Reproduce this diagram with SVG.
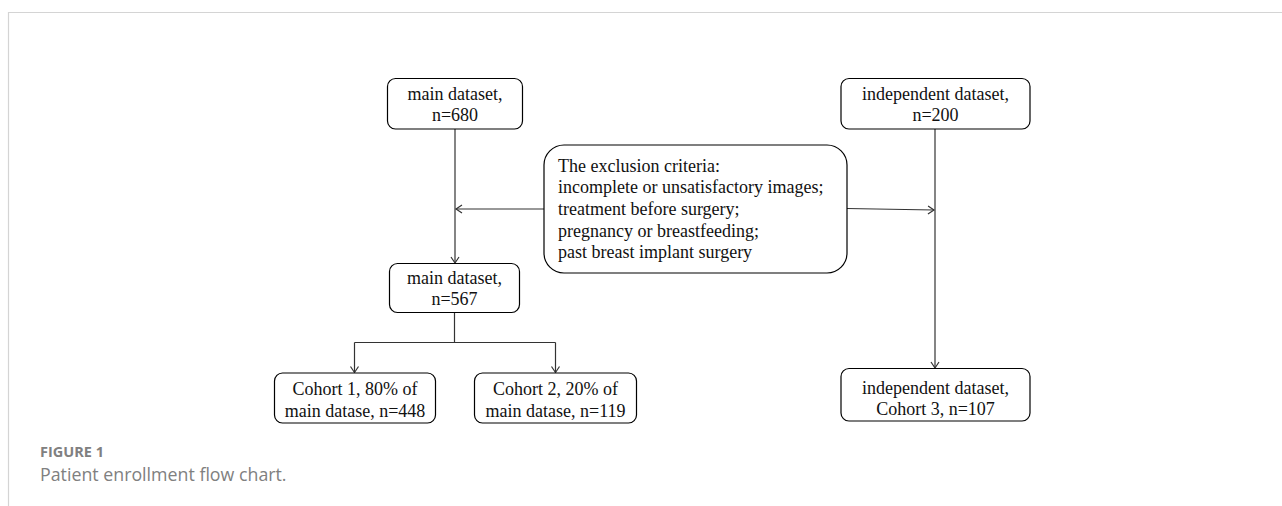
<svg xmlns="http://www.w3.org/2000/svg" width="1282" height="506" viewBox="0 0 1282 506">
<defs>
<style>
.box{fill:#fff;stroke:#000;stroke-width:1.2}
.t{font-family:"Liberation Serif","Times New Roman",serif;font-size:18px;fill:#111}
.c{text-anchor:middle}
.ln{fill:none;stroke:#333;stroke-width:1.2}
.cap{font-family:"Open Sans","Noto Sans",sans-serif;fill:#808080}
</style>
<marker id="ah" markerWidth="10" markerHeight="10" refX="7" refY="5" orient="auto" markerUnits="userSpaceOnUse">
<path d="M1,1 L7,5 L1,9" fill="none" stroke="#333" stroke-width="1.2"/>
</marker>
</defs>
<rect width="1282" height="506" fill="#fff"/>
<path d="M8.5,506 V12.5 H1282" fill="none" stroke="#d4d4d4" stroke-width="1.2"/>
<g id="connectors">
<line class="ln" x1="455" y1="129" x2="455" y2="263" marker-end="url(#ah)"/>
<line class="ln" x1="935" y1="129" x2="935" y2="368" marker-end="url(#ah)"/>
<line class="ln" x1="544" y1="209" x2="456" y2="209" marker-end="url(#ah)"/>
<line class="ln" x1="847" y1="208.5" x2="934" y2="210" marker-end="url(#ah)"/>
<path class="ln" d="M454.5,312 V342.5 M354.5,342.5 H555.5"/>
<line class="ln" x1="354.5" y1="342.5" x2="354.5" y2="372.5" marker-end="url(#ah)"/>
<line class="ln" x1="555.5" y1="342.5" x2="555.5" y2="372.5" marker-end="url(#ah)"/>
</g>
<g id="main680">
<rect class="box" x="387.5" y="78.5" width="135" height="50.5" rx="8"/>
<text class="t c" x="455" y="99.5">main dataset,</text>
<text class="t c" x="455" y="121">n=680</text>
</g>
<g id="indep200">
<rect class="box" x="841" y="78.5" width="189" height="50.5" rx="8"/>
<text class="t c" x="935.5" y="99.5">independent dataset,</text>
<text class="t c" x="935.5" y="121">n=200</text>
</g>
<g id="exclusion">
<rect class="box" x="544" y="145" width="303" height="128" rx="20"/>
<text class="t" x="558" y="171.5">The exclusion criteria:</text>
<text class="t" x="558" y="193.2">incomplete or unsatisfactory images;</text>
<text class="t" x="558" y="214.9">treatment before surgery;</text>
<text class="t" x="558" y="236.6">pregnancy or breastfeeding;</text>
<text class="t" x="558" y="258.3">past breast implant surgery</text>
</g>
<g id="main567">
<rect class="box" x="389.5" y="263.5" width="130" height="49" rx="8"/>
<text class="t c" x="454.5" y="283.5">main dataset,</text>
<text class="t c" x="454.5" y="305">n=567</text>
</g>
<g id="cohort1">
<rect class="box" x="274.5" y="373" width="161" height="50" rx="8"/>
<text class="t c" x="355" y="395">Cohort 1, 80% of</text>
<text class="t c" x="355" y="417">main datase, n=448</text>
</g>
<g id="cohort2">
<rect class="box" x="474.5" y="373" width="162" height="50" rx="8"/>
<text class="t c" x="555.5" y="395">Cohort 2, 20% of</text>
<text class="t c" x="555.5" y="417">main datase, n=119</text>
</g>
<g id="cohort3">
<rect class="box" x="841" y="368.5" width="189" height="52.5" rx="8"/>
<text class="t c" x="935.5" y="393.5">independent dataset,</text>
<text class="t c" x="935.5" y="415">Cohort 3, n=107</text>
</g>
<text class="cap" x="40" y="457" font-size="14.5" font-weight="bold">FIGURE 1</text>
<text class="cap" x="40" y="481" font-size="17.8">Patient enrollment flow chart.</text>
</svg>
